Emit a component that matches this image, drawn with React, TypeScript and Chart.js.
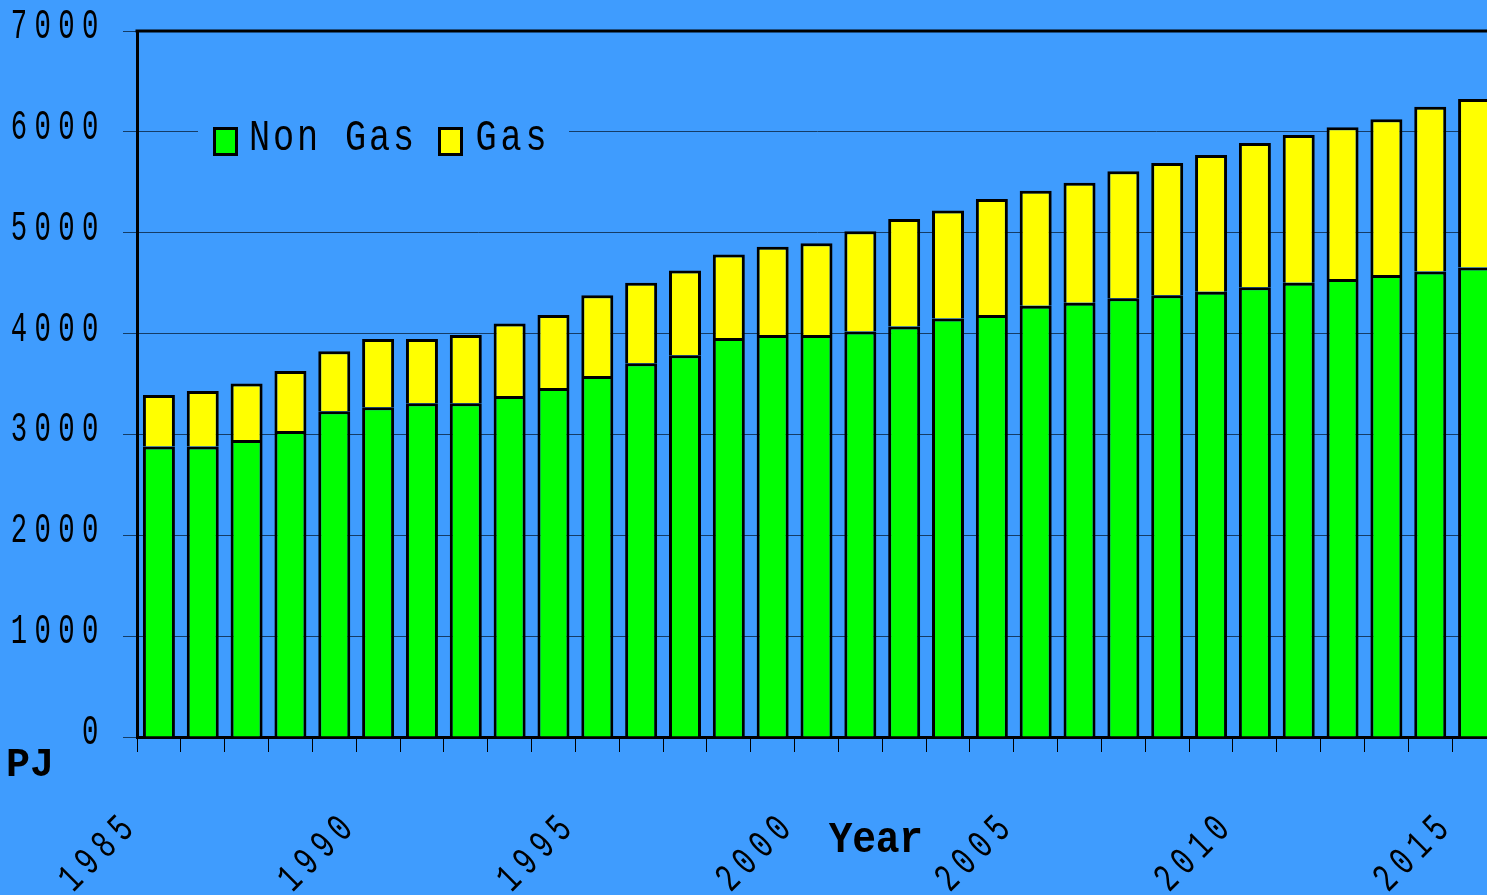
import { useEffect, useRef } from 'react';
import { Chart, registerables } from 'chart.js';

Chart.register(...registerables);

// ---- data ----
const years = [
  '1985', '1986', '1987', '1988', '1989', '1990', '1991', '1992', '1993', '1994',
  '1995', '1996', '1997', '1998', '1999', '2000', '2001', '2002', '2003', '2004',
  '2005', '2006', '2007', '2008', '2009', '2010', '2011', '2012', '2013', '2014', '2015',
];
const nonGas = [
  2880, 2880, 2945, 3035, 3230, 3270, 3310, 3310, 3380, 3460,
  3580, 3705, 3785, 3955, 3985, 3985, 4020, 4070, 4150, 4185,
  4275, 4305, 4350, 4380, 4415, 4460, 4505, 4540, 4580, 4615, 4655,
];
const gas = [
  510, 550, 560, 595, 595, 675, 635, 675, 720, 725,
  800, 800, 840, 830, 875, 910, 995, 1065, 1070, 1150,
  1140, 1190, 1260, 1310, 1355, 1430, 1465, 1505, 1545, 1635, 1670,
];
const seriesLabels = ['Non Gas', 'Gas'];
const yMin = 0;
const yMax = 7000;
const yStep = 1000;
const xLabelEvery = 5;
const yAxisUnit = 'PJ';
const xAxisTitle = 'Year';

// ---- styles ----
const BG = '#3f9cfe';
const GREEN = '#00ff00';
const YELLOW = '#ffff00';
const GRID = '#143c66';

type CellOpts = {
  font: string;
  adv: number;
  sx?: number;
  sy?: number;
  align?: 'left' | 'right' | 'center';
  rotate?: number;
  dx?: number;
  color?: string;
};

function drawCells(ctx: CanvasRenderingContext2D, text: string, x: number, y: number, o: CellOpts) {
  const chars = Array.from(text);
  const total = chars.length * o.adv;
  ctx.save();
  ctx.translate(x, y);
  if (o.rotate) ctx.rotate(o.rotate);
  ctx.font = o.font;
  ctx.fillStyle = o.color || '#000';
  ctx.textAlign = 'center';
  ctx.textBaseline = 'alphabetic';
  let start = o.align === 'right' ? -total : o.align === 'center' ? -total / 2 : 0;
  start += o.dx || 0;
  chars.forEach((c, i) => {
    const cx = start + o.adv * (i + 0.5);
    ctx.save();
    ctx.translate(cx, 0);
    ctx.scale(o.sx || 1, o.sy || 1);
    ctx.fillText(c, 0, 0);
    ctx.restore();
  });
  ctx.restore();
}

const decorPlugin = {
  id: 'decor',
  afterDraw(chart: any) {
    const ctx: CanvasRenderingContext2D = chart.ctx;
    const area = chart.chartArea;
    const xs = chart.scales.x;
    const ys = chart.scales.y;

    // top frame line
    ctx.save();
    ctx.strokeStyle = '#000';
    ctx.lineWidth = 3;
    ctx.beginPath();
    ctx.moveTo(area.left - 1.5, area.top);
    ctx.lineTo(area.right, area.top);
    ctx.stroke();
    ctx.restore();

    // y tick labels
    ys.ticks.forEach((t: any) => {
      const py = ys.getPixelForValue(t.value);
      drawCells(ctx, String(t.value), 102, py + 7, {
        font: '42px "Liberation Mono"', sx: 0.65, adv: 23.7, align: 'right',
      });
    });

    // x tick labels (at category boundaries)
    const half = (xs.getPixelForTick(1) - xs.getPixelForTick(0)) / 2;
    xs.ticks.forEach((t: any, i: number) => {
      if (i % xLabelEvery !== 0) return;
      const px = xs.getPixelForTick(i) - half;
      drawCells(ctx, String(xs.getLabelForValue(t.value)), px - 3, 832, {
        font: '40px "Liberation Mono"', sx: 0.7, adv: 23.7, align: 'right',
        rotate: -Math.PI / 4, dx: 5,
      });
    });

    // axis texts
    drawCells(ctx, xAxisTitle, 829, 852, { font: 'bold 44px "Liberation Mono"', sx: 0.9, adv: 23.5 });
    drawCells(ctx, yAxisUnit, 6, 776, { font: 'bold 40px "Liberation Mono"', sx: 1, adv: 24 });

    // legend
    ctx.save();
    ctx.fillStyle = BG;
    ctx.fillRect(198, 114, 371, 48);
    const boxes = [213, 438];
    const texts = [247.5, 473.5];
    const advs = [24, 25];
    chart.data.datasets.forEach((ds: any, i: number) => {
      const bx = boxes[i];
      ctx.fillStyle = ds.backgroundColor;
      ctx.fillRect(bx, 127, 25, 29);
      ctx.strokeStyle = '#000';
      ctx.lineWidth = 3;
      ctx.strokeRect(bx + 1.5, 128.5, 22, 26);
      drawCells(ctx, ds.label, texts[i], 150, {
        font: '44px "Liberation Mono"', sx: 0.8, adv: advs[i],
      });
    });
    ctx.restore();
  },
};

export default function App() {
  const ref = useRef<HTMLCanvasElement>(null);
  useEffect(() => {
    document.body.style.margin = '0';
    document.body.style.background = BG;
    const chart = new Chart(ref.current as HTMLCanvasElement, {
      type: 'bar',
      data: {
        labels: years,
        datasets: [
          {
            label: seriesLabels[0],
            data: nonGas,
            backgroundColor: GREEN,
            borderColor: '#000',
            borderWidth: 3,
            barPercentage: 0.73,
            categoryPercentage: 1,
          },
          {
            label: seriesLabels[1],
            data: gas,
            backgroundColor: YELLOW,
            borderColor: '#000',
            borderWidth: 3,
            barPercentage: 0.73,
            categoryPercentage: 1,
          },
        ],
      },
      options: {
        responsive: false,
        animation: false,
        devicePixelRatio: 1,
        layout: { padding: { top: 31, left: 0, right: 0, bottom: 0 } },
        plugins: {
          legend: { display: false },
          tooltip: { enabled: false },
          title: { display: false },
        },
        scales: {
          x: {
            stacked: true,
            z: 1,
            offset: true,
            grid: {
              offset: true,
              drawOnChartArea: false,
              drawTicks: true,
              tickLength: 15,
              color: '#000',
              lineWidth: 1,
            },
            border: { display: true, color: '#000', width: 3 },
            ticks: { display: false, autoSkip: false },
            afterFit: (s: any) => { s.height = 158; },
          },
          y: {
            stacked: true,
            min: yMin,
            max: yMax,
            ticks: { display: false, stepSize: yStep },
            grid: {
              drawOnChartArea: true,
              drawTicks: true,
              tickLength: 14,
              color: GRID,
              lineWidth: 1,
            },
            border: { display: true, color: '#000', width: 3 },
            afterFit: (s: any) => { s.width = 137; },
          },
        },
      },
      plugins: [decorPlugin],
    } as any);
    return () => chart.destroy();
  }, []);
  return (
    <div
      style={{
        position: 'fixed', left: 0, top: 0, width: 1487, height: 895,
        overflow: 'hidden', background: BG,
      }}
    >
      <canvas ref={ref} width={1496} height={895} style={{ display: 'block' }} />
    </div>
  );
}
